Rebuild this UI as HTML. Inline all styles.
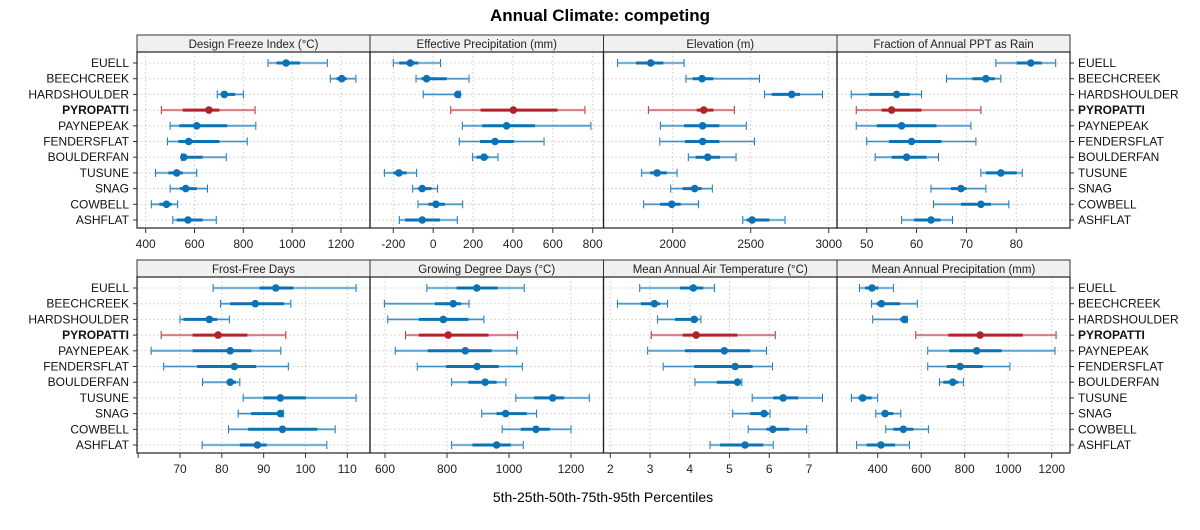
<!DOCTYPE html>
<html><head><meta charset="utf-8">
<style>
body{margin:0;background:#fff;font-family:"Liberation Sans",sans-serif;}
svg text{font-family:"Liberation Sans",sans-serif;}
</style></head>
<body>
<svg id="chart" width="1200" height="525" xmlns="http://www.w3.org/2000/svg">
<text x="600" y="21" text-anchor="middle" font-size="17" font-weight="bold">Annual Climate: competing</text>
<text x="603" y="502" text-anchor="middle" font-size="14">5th-25th-50th-75th-95th Percentiles</text>
<g id="g"></g>
</svg>
<script>
const sites = ["EUELL","BEECHCREEK","HARDSHOULDER","PYROPATTI","PAYNEPEAK","FENDERSFLAT","BOULDERFAN","TUSUNE","SNAG","COWBELL","ASHFLAT"];
const focusSite = "PYROPATTI";
const panelTitles = ["Design Freeze Index (°C)","Effective Precipitation (mm)","Elevation (m)","Fraction of Annual PPT as Rain","Frost-Free Days","Growing Degree Days (°C)","Mean Annual Air Temperature (°C)","Mean Annual Precipitation (mm)"];
// each row: [p5, p25, p50, p75, p95]
const dfi = [[901,936,975,1032,1144],[1156,1182,1203,1223,1261],[693,711,722,766,800],[464,552,659,702,848],[500,538,609,734,851],[489,534,576,702,816],[547,547,556,633,730],[440,493,527,552,609],[500,541,564,609,653],[423,456,485,506,531],[511,527,573,633,689]];
const effPpt = [[-200,-170,-115,-75,37],[-86,-58,-33,68,180],[-50,115,123,130,135],[88,238,402,624,761],[146,246,368,511,791],[131,235,310,405,556],[198,218,255,277,325],[-245,-200,-172,-133,-83],[-103,-75,-55,-8,22],[-76,-24,14,59,148],[-170,-141,-55,34,121]];
const elev = [[1647,1765,1859,1940,2073],[2085,2128,2188,2261,2556],[2588,2635,2763,2816,2960],[1844,2154,2199,2261,2395],[1921,2073,2192,2299,2472],[1917,2079,2192,2299,2524],[2100,2147,2224,2303,2406],[1801,1855,1900,1962,2028],[1987,2064,2141,2186,2254],[1814,1919,1994,2051,2165],[2449,2474,2509,2620,2720]];
const fracRain = [[75.9,80.1,82.9,85.1,87.9],[66,71.2,73.9,75.7,76.9],[46.9,50.5,56,58.6,61],[47.9,53,55,61,72.9],[47.9,52,57,64,70.9],[50,54.5,59,65,71.9],[51.7,55,58,62,64.4],[72.9,73.9,76.9,80.1,81.2],[62.9,66.9,68.9,70,73.9],[63.4,68.9,72.9,74.9,78.5],[57,59.5,62.9,64.8,67.2]];
const ffd = [[77.9,89,92.9,97.1,112.1],[79.7,82,88,94.9,96.5],[70,70.8,77,78.9,81.8],[65.5,73,79.1,86.1,95.3],[63.1,73,82,87.1,94.1],[66.1,74.1,83,88.2,95.9],[75.4,81.2,82,83.4,84.3],[85.1,89.9,94,100.1,112.1],[83.9,87,94,94.3,94.7],[81.6,86.3,94.5,102.8,107.1],[75.3,84.3,88.5,90.7,105.1]];
const gdd = [[735,831,896,963,1049],[598,761,820,845,871],[609,709,788,869,919],[666,709,804,934,1027],[633,738,859,944,1025],[704,797,897,967,1043],[815,869,923,960,990],[1022,1081,1141,1178,1259],[912,960,989,1057,1089],[978,1038,1087,1132,1200],[815,882,960,1006,1046]];
const maat = [[2.74,3.75,4.09,4.34,4.62],[2.18,2.77,3.11,3.25,3.44],[3.19,3.63,4.11,4.21,4.28],[3.03,3.82,4.16,5.2,6.15],[2.94,3.88,4.87,5.52,5.93],[3.33,4.11,5.14,5.58,6.08],[4.13,4.68,5.2,5.26,5.31],[5.57,6.1,6.35,6.73,7.34],[5.08,5.52,5.87,5.98,6.02],[5.47,5.93,6.09,6.5,6.94],[4.51,4.76,5.39,5.85,6.1]];
const map = [[316,342,374,403,472],[372,395,417,503,582],[377,503,523,533,536],[575,725,871,1067,1220],[630,730,855,970,1215],[630,717,779,883,1008],[684,702,745,771,794],[279,311,331,372,400],[391,418,434,472,506],[437,472,518,564,633],[303,349,415,480,546]];
const ticksDfi = [400,600,800,1000,1200];
const ticksEff = [-200,0,200,400,600,800];
const ticksElev = [2000,2500,3000];
const ticksFrac = [50,60,70,80];
const ticksFfd = [60,70,80,90,100,110];
const ticksGdd = [600,800,1000,1200];
const ticksMaat = [2,3,4,5,6,7];
const ticksMap = [400,600,800,1000,1200];

const NS="http://www.w3.org/2000/svg";
const g=document.getElementById('g');
function mk(t,a,p){const e=document.createElementNS(NS,t);for(const k in a)e.setAttribute(k,a[k]);(p||g).appendChild(e);return e;}
// axis calibration: [value1, px1, value2, px2]
const panels=[
 {data:dfi,ticks:ticksDfi,cal:[400,145.7,1200,341],labelled:[400,600,800,1000,1200]},
 {data:effPpt,ticks:ticksEff,cal:[-200,393.3,800,592.7],labelled:ticksEff},
 {data:elev,ticks:ticksElev,cal:[2000,672.7,3000,828.7],labelled:ticksElev},
 {data:fracRain,ticks:ticksFrac,cal:[50,866.7,80,1016.3],labelled:ticksFrac},
 {data:ffd,ticks:ticksFfd,cal:[70,180,110,347.3],labelled:[70,80,90,100,110]},
 {data:gdd,ticks:ticksGdd,cal:[600,385,1200,571],labelled:ticksGdd},
 {data:maat,ticks:ticksMaat,cal:[2,610.3,7,809],labelled:ticksMaat},
 {data:map,ticks:ticksMap,cal:[400,877.7,1200,1051.7],labelled:ticksMap}
];
const colX=[137,370,603.5,837,1070];
const rowTop=[35,260];
const STRIP=17, PH=176;
const blue="#0b73b5", blueL="#6aa9d4", red="#b22329", redL="#d98a8d";
panels.forEach((p,i)=>{
  const c=i%4,r=Math.floor(i/4);
  const x0=colX[c],x1=colX[c+1],yS=rowTop[r],y0=yS+STRIP,y1=y0+PH;
  const sx=v=>p.cal[1]+(v-p.cal[0])*(p.cal[3]-p.cal[1])/(p.cal[2]-p.cal[0]);
  const sy=k=>y0+11+k*15.7;
  const pg=mk('g',{});
  
  
  const st=mk('rect',{x:x0,y:yS,width:x1-x0,height:STRIP,fill:'#f0f0f0',stroke:'#333','stroke-width':1},pg);
  
  
  const tt=mk('text',{x:(x0+x1)/2,y:yS+13,'text-anchor':'middle','font-size':11.5,fill:'#222'},pg);
  tt.textContent=panelTitles[i];
  
  
  // grid
  p.ticks.forEach(t=>{const X=sx(t);if(X>x0+1&&X<x1-1)mk('line',{x1:X,x2:X,y1:y0,y2:y1,stroke:'#ccc','stroke-dasharray':'1.5,2.5'},pg);});
  sites.forEach((s,k)=>mk('line',{x1:x0,x2:x1,y1:sy(k),y2:sy(k),stroke:'#ccc','stroke-dasharray':'1.5,2.5'},pg));
  mk('rect',{x:x0,y:y0,width:x1-x0,height:PH,fill:'none',stroke:'#222','stroke-width':1.2},pg);
  // ticks
  p.ticks.forEach(t=>{const X=sx(t);
    const tk=mk('line',{x1:X,x2:X,y1:y1,y2:y1+5,stroke:'#333'},pg);
    
    
    if(p.labelled.includes(t)){const tl=mk('text',{x:X,y:y1+20,'text-anchor':'middle','font-size':12,fill:'#222'},pg);tl.textContent=t;
    
    }
  });
  // marks
  p.data.forEach((d,k)=>{
    const Y=sy(k), foc=sites[k]===focusSite, col=foc?red:blue, lc=foc?redL:blueL;
    const mg=mk('g',{},pg);
    
    
    mk('line',{x1:sx(d[0]),x2:sx(d[4]),y1:Y,y2:Y,stroke:col,'stroke-width':1.1},mg);
    mk('line',{x1:sx(d[0]),x2:sx(d[0]),y1:Y-4,y2:Y+4,stroke:col,'stroke-width':1},mg);
    mk('line',{x1:sx(d[4]),x2:sx(d[4]),y1:Y-4,y2:Y+4,stroke:col,'stroke-width':1},mg);
    mk('line',{x1:sx(d[0]),x2:sx(d[4]),y1:Y,y2:Y,stroke:lc,'stroke-width':2.5,'stroke-opacity':0.55},mg);
    mk('line',{x1:sx(d[1]),x2:sx(d[3]),y1:Y,y2:Y,stroke:col,'stroke-width':3},mg);
    mk('circle',{cx:sx(d[2]),cy:Y,r:3.8,fill:col},mg);
  });
  if(c===0||c===3){
    sites.forEach((s,k)=>{
      const t=mk('text',{x:c===0?129:1078,y:sy(k)+4,'text-anchor':c===0?'end':'start','font-size':12,fill:'#111','font-weight':s===focusSite?'bold':'normal'},pg);
      t.textContent=s;
      
      
      mk('line',{x1:c===0?x0-4:x1,x2:c===0?x0:x1+4,y1:sy(k),y2:sy(k),stroke:'#333'},pg);
    });
  }
});
</script>
</body></html>
